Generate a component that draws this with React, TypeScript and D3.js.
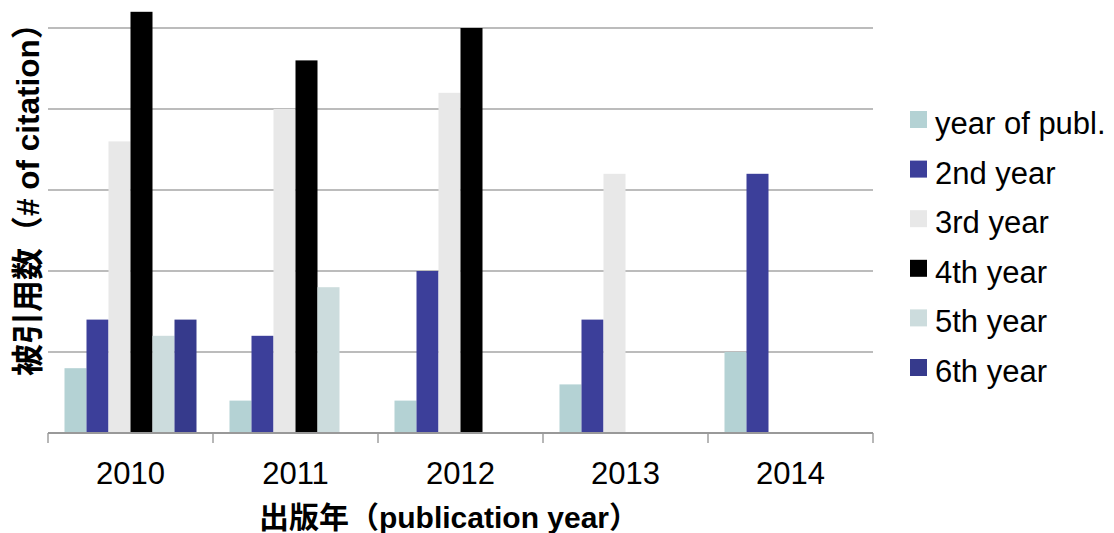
import React from 'react';
import * as d3 from 'd3';

// publication years and the citation counts per year after publication
const years = ['2010', '2011', '2012', '2013', '2014'];
const seriesNames = ['year of publ.', '2nd year', '3rd year', '4th year', '5th year', '6th year'];
const seriesColors = ['#b4d2d4', '#3c3f9a', '#e8e8e8', '#000000', '#ccdcdd', '#363a8c'];

const pubYear = [4, 2, 2, 3, 5];
const year2 = [7, 6, 10, 7, 16];
const year3 = [18, 20, 21, 16, null];
const year4 = [26, 23, 25, null, null];
const year5 = [6, 9, null, null, null];
const year6 = [7, null, null, null, null];

const gridTicks = [0, 5, 10, 15, 20, 25];

const font = "'Liberation Sans', Arial, 'Noto Sans CJK JP', sans-serif";

export default function App() {
  const width = 1114, height = 533;
  const plot = { left: 48, right: 873, top: 28, bottom: 433 };

  const series = [pubYear, year2, year3, year4, year5, year6];

  const x0 = d3.scaleBand<string>()
    .domain(years)
    .range([plot.left, plot.right]);

  const x1 = d3.scaleBand<number>()
    .domain(d3.range(seriesNames.length))
    .range([x0.bandwidth() * 0.1, x0.bandwidth() * 0.9]);

  const y = d3.scaleLinear()
    .domain([0, 25])
    .range([plot.bottom, plot.top]);

  const ticksX = years.map(yr => x0(yr)!).concat([plot.right]);

  return (
    <svg width={width} height={height} style={{ position: 'absolute', left: 0, top: 0, display: 'block' }}>
      <rect width={width} height={height} fill='#ffffff' />

      {gridTicks.filter(t => t > 0).map(t => (
        <line key={t} x1={plot.left} x2={plot.right} y1={y(t)} y2={y(t)} stroke='#a6a6a6' strokeWidth={1.4} />
      ))}

      {years.map((yr, i) => (
        <g key={yr} transform={`translate(${x0(yr)},0)`}>
          {series.map((s, j) => s[i] == null ? null : (
            <rect key={j}
              x={x1(j)}
              y={y(s[i] as number)}
              width={x1.bandwidth()}
              height={plot.bottom - y(s[i] as number)}
              fill={seriesColors[j]} />
          ))}
        </g>
      ))}

      <line x1={plot.left} x2={plot.right} y1={plot.bottom} y2={plot.bottom} stroke='#999999' strokeWidth={2} />
      {ticksX.map((tx, i) => (
        <line key={i} x1={tx} x2={tx} y1={plot.bottom} y2={plot.bottom + 10} stroke='#999999' strokeWidth={1.4} />
      ))}

      {years.map(yr => (
        <text key={yr} x={x0(yr)! + x0.bandwidth() / 2} y={484} textAnchor='middle'
          fontFamily={font} fontSize={31} fill='#000'>{yr}</text>
      ))}

      <text x={449} y={528} textAnchor='middle' fontFamily={font} fontSize={30} fontWeight='bold' fill='#000'>
        出版年（publication year）
      </text>

      <text transform='translate(39,376) rotate(-90)' textAnchor='start' fontFamily={font} fontSize={32} fontWeight='bold' fill='#000'>
        被引用数（<tspan fontSize={31.5}># of citation</tspan>）
      </text>

      {seriesNames.map((name, i) => {
        const cy = 123 + i * 49.6;
        return (
          <g key={name}>
            <rect x={910} y={cy - 12} width={17} height={17} fill={seriesColors[i]} />
            <text x={935} y={cy + 11} fontFamily={font} fontSize={31} fill='#000'>{name}</text>
          </g>
        );
      })}
    </svg>
  );
}
